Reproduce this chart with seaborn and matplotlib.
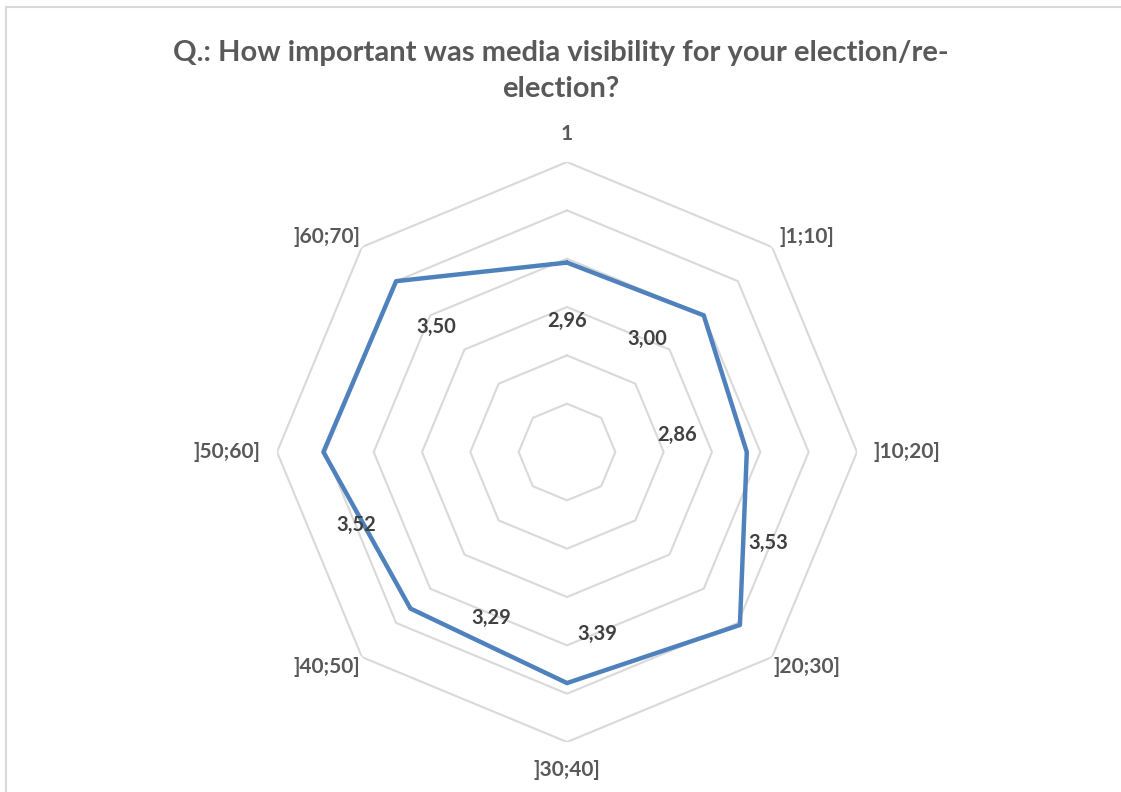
import numpy as np
import pandas as pd
import matplotlib.pyplot as plt
import seaborn as sns
from matplotlib.patches import Rectangle

sns.set_style("white")
plt.rcParams['font.family'] = ['Lato', 'DejaVu Sans']

categories = ['1', ']1;10]', ']10;20]', ']20;30]', ']30;40]', ']40;50]', ']50;60]', ']60;70]']
scores = [2.96, 3.00, 2.86, 3.53, 3.39, 3.29, 3.52, 3.50]
ring_levels = [1.5, 2.0, 2.5, 3.0, 3.5, 4.0]
title = 'Q.: How important was media visibility for your election/re-\nelection?'

# where excel dropped the value labels (pixel offsets from each point)
label_offsets = [(0, -58), (-56, -24), (-70, 17), (28, 82),
                 (30, 49), (81, -9), (33, -73), (40, -46)]

line_col = '#4F81BD'
grid_col = '#D9D9D9'


def main():
    n = len(categories)
    theta = np.linspace(0, 2 * np.pi, n, endpoint=False)
    # close the loop at 2pi so seaborn doesn't merge it with theta=0
    df = pd.DataFrame({'theta': np.append(theta, 2 * np.pi),
                       'score': scores + scores[:1]})

    fig = plt.figure(figsize=(11.21, 7.92), dpi=100)
    ax = fig.add_axes([0.2471, 0.0631, 0.5174, 0.7323], projection='polar')
    ax.set_theta_zero_location('N')
    ax.set_theta_direction(-1)
    ax.set_ylim(1, 4)
    ax.grid(False)
    ax.spines['polar'].set_visible(False)

    # octagon gridlines
    for lvl in ring_levels:
        ax.plot(df['theta'], [lvl] * (n + 1), color=grid_col, lw=1.5, zorder=1)

    sns.lineplot(data=df, x='theta', y='score', sort=False, estimator=None,
                 ax=ax, color=line_col, lw=3.2, zorder=3)
    ax.set_xlabel('')
    ax.set_ylabel('')
    ax.set_xticks([])
    ax.set_yticks([])

    # category names sit just outside the outer ring
    top = ring_levels[-1]
    for t, cat in zip(theta, categories):
        off = (50 * np.sin(t), 28 * np.cos(t) ** 3)
        ax.annotate(cat, xy=(t, top), xytext=off, textcoords='offset pixels',
                    ha='center', va='center', fontsize=15,
                    fontweight='bold', color='#595959', annotation_clip=False)

    for t, v, off in zip(theta, scores, label_offsets):
        ax.annotate(f'{v:.2f}'.replace('.', ','), xy=(t, v), xytext=off,
                    textcoords='offset pixels', ha='center', va='center',
                    fontsize=14.5, fontweight='bold', color='#404040', zorder=4)

    fig.text(0.5, 1 - 71 / 792, title, ha='center', va='center', fontsize=21,
             fontweight='bold', color='#595959', linespacing=1.45)

    fig.add_artist(Rectangle((6 / 1121, -0.1), 1.2, 1 - 7 / 792 + 0.1,
                             transform=fig.transFigure, fill=False,
                             ec=grid_col, lw=1.5))

    plt.savefig('out.png', dpi=100)


main()
